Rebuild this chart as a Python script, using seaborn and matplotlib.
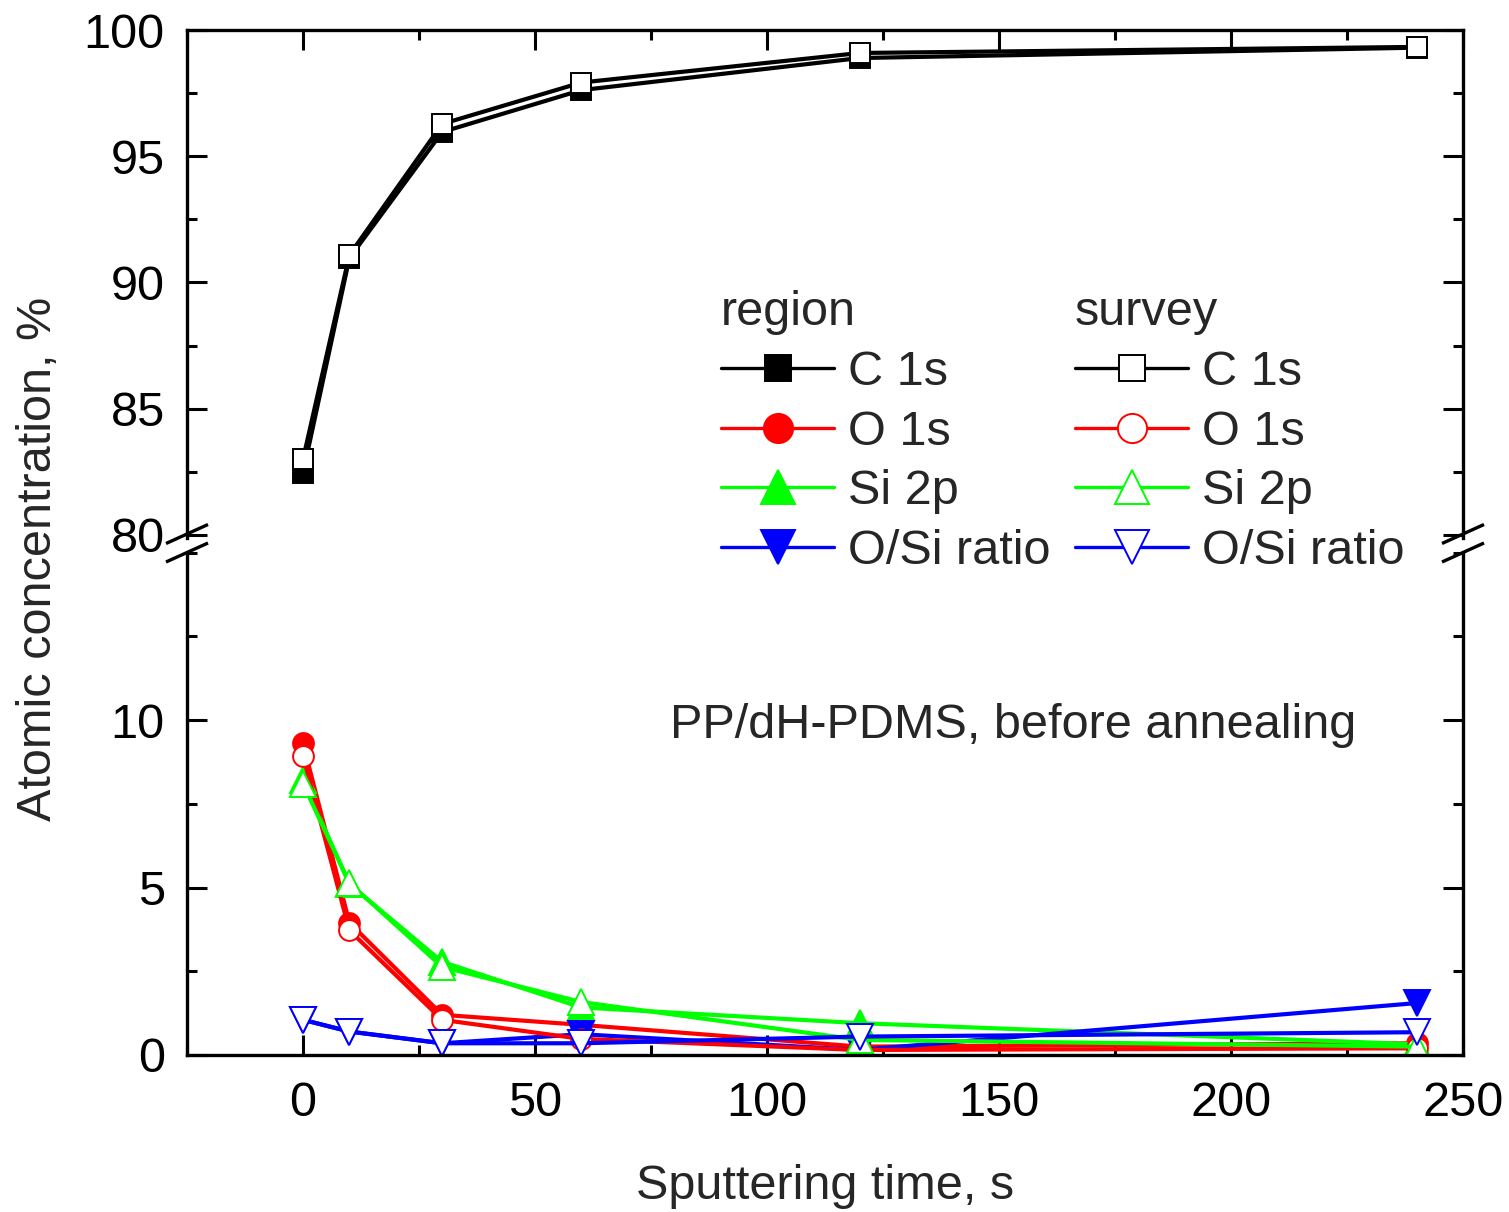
import matplotlib
matplotlib.use("Agg")
import matplotlib.pyplot as plt
import seaborn as sns
import numpy as np
import pandas as pd
from matplotlib.lines import Line2D
from matplotlib.ticker import MultipleLocator

# ---------------- data ----------------
time_s = [0, 10, 30, 60, 120, 240]

c1s_region = [82.45, 90.97, 95.96, 97.62, 98.89, 99.30]
c1s_survey = [83.00, 91.09, 96.28, 97.92, 99.09, 99.33]

o1s_region = [9.30, 3.95, 1.20, 0.90, 0.25, 0.35]
o1s_survey = [8.93, 3.72, 1.05, 0.48, 0.15, 0.20]

si2p_region = [8.20, 5.10, 2.78, 1.42, 0.95, 0.32]
si2p_survey = [8.10, 5.13, 2.63, 1.58, 0.45, 0.25]

osi_region = [1.05, 0.70, 0.35, 0.62, 0.15, 1.55]
osi_survey = [1.05, 0.70, 0.35, 0.35, 0.55, 0.68]

series_names = ["C 1s", "O 1s", "Si 2p", "O/Si ratio"]
x_ticks = [0, 50, 100, 150, 200, 250]
top_yticks = [80, 85, 90, 95, 100]
bot_yticks = [0, 5, 10]
annotation = "PP/dH-PDMS, before annealing"

# ---------------- style ----------------
sns.set_style("ticks")
plt.rcParams["font.family"] = ["Liberation Sans", "DejaVu Sans"]
FS = 35

W, H = 1509, 1212
fig = plt.figure(figsize=(W / 100, H / 100), dpi=100)
L, R = 187, 1463


def rect(top, bot):
    return [L / W, 1 - bot / H, (R - L) / W, (bot - top) / H]


ax_top = fig.add_axes(rect(30, 537.5))
ax_bot = fig.add_axes(rect(552.5, 1055))

colors = ["black", "red", "#00ff00", "blue"]
markers = ["s", "o", "^", "v"]
msizes = [14.5, 15, 18.5, 18.5]
lw = 3.0
mew = 1.4

region_sets = [c1s_region, o1s_region, si2p_region, osi_region]
survey_sets = [c1s_survey, o1s_survey, si2p_survey, osi_survey]

for ax in (ax_top, ax_bot):
    # region (filled) first
    for vals, c, m, ms in zip(region_sets, colors, markers, msizes):
        sns.lineplot(x=time_s, y=vals, ax=ax, color=c, marker=m, markersize=ms,
                     markerfacecolor=c, markeredgecolor=c, markeredgewidth=mew,
                     linewidth=lw, legend=False, clip_on=True)
    # survey (open) on top
    for vals, c, m, ms in zip(survey_sets, colors, markers, msizes):
        sns.lineplot(x=time_s, y=vals, ax=ax, color=c, marker=m, markersize=ms,
                     markerfacecolor="white", markeredgecolor=c, markeredgewidth=mew,
                     linewidth=lw, legend=False, clip_on=True)

# limits
for ax in (ax_top, ax_bot):
    ax.set_xlim(-25, 250)
    ax.xaxis.set_major_locator(MultipleLocator(50))
    ax.xaxis.set_minor_locator(MultipleLocator(25))
    ax.set_xlabel("")
    ax.set_ylabel("")
    for s in ax.spines.values():
        s.set_linewidth(2.4)
        s.set_color("black")
    ax.tick_params(which="major", direction="in", length=14.5, width=2.2,
                   labelsize=FS, colors="black")
    ax.tick_params(which="minor", direction="in", length=7.5, width=2.2,
                   colors="black")
    ax.patch.set_alpha(0)

ax_top.set_ylim(79.9, 100)
ax_top.yaxis.set_major_locator(MultipleLocator(5))
ax_top.yaxis.set_minor_locator(MultipleLocator(2.5))
ax_top.set_yticks(top_yticks)
ax_top.set_yticklabels([str(v) for v in top_yticks])

ax_bot.set_ylim(0, 15.0)
ax_bot.set_yticks(bot_yticks)
ax_bot.set_yticklabels([str(v) for v in bot_yticks])
ax_bot.yaxis.set_minor_locator(MultipleLocator(2.5))
ax_bot.set_xticks(x_ticks)
ax_bot.set_xticklabels([str(v) for v in x_ticks])

ax_top.spines["bottom"].set_visible(False)
ax_bot.spines["top"].set_visible(False)

ax_top.tick_params(axis="x", which="both", bottom=False, top=True,
                   labelbottom=False, labeltop=False)
ax_bot.tick_params(axis="x", which="both", bottom=True, top=False,
                   labelbottom=True, labeltop=False, pad=19)
for ax in (ax_top, ax_bot):
    ax.tick_params(axis="y", which="both", left=True, right=True,
                   labelleft=True, labelright=False, pad=16)

# break marks
for yc in (534, 552.5):
    for xc in (L, R):
        fig.add_artist(Line2D([(xc - 21) / W, (xc + 21) / W],
                              [1 - (yc + 9.5) / H, 1 - (yc - 9.5) / H],
                              transform=fig.transFigure, color="black",
                              linewidth=2.4, solid_capstyle="butt"))

# annotation
ax_bot.text(79.0, (1055 - 738) / 33.53, annotation, fontsize=FS,
            ha="left", va="baseline")

# axis labels
fig.text(51 / W, 1 - 558.5 / H, "Atomic concentration, %", fontsize=FS,
         rotation=90, rotation_mode="anchor", ha="center", va="baseline")
fig.text(825 / W, 1 - 1199 / H, "Sputtering time, s", fontsize=FS,
         ha="center", va="baseline")

# legends
leg_ms = [18.5, 21, 24, 24]


def make_handles(filled):
    hs = []
    for c, m, ms in zip(colors, markers, leg_ms):
        hs.append(Line2D([], [], color=c, marker=m, markersize=ms,
                         markerfacecolor=c if filled else "white",
                         markeredgecolor=c, markeredgewidth=1.4, linewidth=2.4))
    return hs


common = dict(loc="upper left", frameon=False, fontsize=FS, title_fontsize=FS,
              handlelength=2.33, handletextpad=0.28, labelspacing=0.305,
              borderpad=0, borderaxespad=0, alignment="left", numpoints=1)
leg1 = fig.legend(handles=make_handles(True), labels=series_names, title="region",
                  bbox_to_anchor=(721 / W, 1 - 290 / H), **common)
leg2 = fig.legend(handles=make_handles(False), labels=series_names, title="survey",
                  bbox_to_anchor=(1075 / W, 1 - 290 / H), **common)

fig.savefig("out.png", dpi=100)
